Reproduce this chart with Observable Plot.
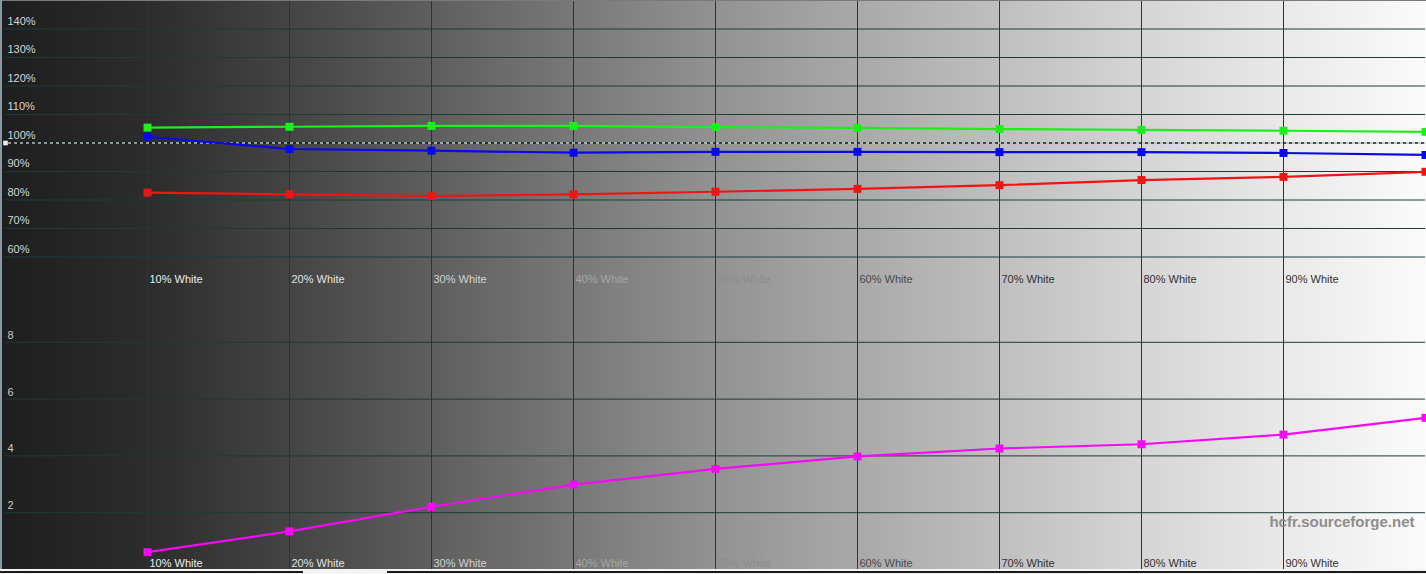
<!DOCTYPE html>
<html>
<head>
<meta charset="utf-8">
<script src="https://cdn.jsdelivr.net/npm/d3@7"></script>
<script src="https://cdn.jsdelivr.net/npm/@observablehq/plot@0.6"></script>
<style>
  html, body { margin: 0; padding: 0; overflow: hidden; background: #f4f4f4; }
  #wrap { position: relative; width: 1426px; height: 574px; overflow: hidden;
    background: linear-gradient(to right, #1e1e1e 0px, #2c2c2c 147px, #444444 289px, #5e5e5e 431px,
      #787878 573px, #929292 715px, #a9a9a9 857px, #bfbfbf 999px, #d5d5d5 1141px, #e9e9e9 1283px, #fbfbfb 1426px); }
  #top, #bottom { position: absolute; left: 0; }
  #top { top: 0; }
  #bottom { top: 285px; }
  .edge { position: absolute; }
</style>
</head>
<body>
<div id="wrap">
  <div id="top"></div>
  <div id="bottom"></div>
  <div class="edge" style="left:0;top:0;width:1426px;height:1px;background:#7a7a7a"></div>
  <div class="edge" style="left:0;top:0;width:2px;height:570px;background:#8a98a6"></div>
  <div class="edge" style="left:0;top:569px;width:1426px;height:5px;background:#f4f4f4"></div>
  <div class="edge" style="left:0;top:571px;width:303px;height:2px;background:#1a1a1a"></div>
  <div class="edge" style="left:387px;top:571px;width:1039px;height:2px;background:#1a1a1a"></div>
</div>
<script>
// ---- data ----
const levels = [10, 20, 30, 40, 50, 60, 70, 80, 90, 100];
const levelLabels = ["10% White", "20% White", "30% White", "40% White", "50% White",
  "60% White", "70% White", "80% White", "90% White"];
const redPct   = [82.6, 82.0, 81.4, 82.0, 82.9, 83.9, 85.2, 87.0, 88.1, 89.9];
const greenPct = [105.4, 105.7, 106.0, 106.0, 105.6, 105.3, 104.9, 104.6, 104.3, 103.9];
const bluePct  = [102.2, 97.9, 97.3, 96.6, 96.9, 96.9, 96.8, 96.8, 96.5, 95.8];
const deltaE   = [0.61, 1.34, 2.21, 2.99, 3.54, 3.98, 4.26, 4.41, 4.75, 5.34];
const pctTicks = [60, 70, 80, 90, 100, 110, 120, 130, 140];
const dETicks  = [2, 4, 6, 8];
const reference = [100];
const watermark = "hcfr.sourceforge.net";

// ---- styles ----
const FONT = "Liberation Sans, Arial, Helvetica, sans-serif";
const GRID = "#1c3c3c";
const COLORS = { red: "#f01414", green: "#1cf01c", blue: "#0a0ae8", dE: "#f50af5" };
function labelColor(level) {
  if (level <= 10) return "#ececec";
  if (level <= 20) return "#e2e2e2";
  if (level <= 30) return "#d2d2d2";
  if (level <= 40) return "#a6a6a6";
  if (level <= 50) return "#8c8c8c";
  if (level <= 60) return "#4a4a4a";
  return "#333333";
}

const rows = (vals) => levels.map((lv, i) => ({ x: lv, y: vals[i] }));
const labelRows = levelLabels.map((t, i) => ({ x: levels[i], t }));

const common = {
  width: 1426,
  marginLeft: 5, marginRight: 1,
  x: { domain: [0, 100], axis: null },
  style: { background: "transparent", overflow: "visible" }
};

function series(vals, color) {
  return [
    Plot.line(rows(vals), { x: "x", y: "y", stroke: color, strokeWidth: 2.2 }),
    Plot.dot(rows(vals), { x: "x", y: "y", symbol: "square", r: 4.5, fill: color, stroke: "none" })
  ];
}

const topPlot = Plot.plot({
  ...common,
  height: 285, marginTop: 0, marginBottom: 0,
  y: { domain: [50, 150], axis: null },
  marks: [
    Plot.ruleY(pctTicks, { stroke: GRID, strokeWidth: 1 }),
    Plot.ruleX(levels.slice(0, 9), { stroke: GRID, strokeWidth: 1 }),
    Plot.ruleY(reference, { x1: 0, x2: 100, stroke: "#111", strokeDasharray: "3,3" }),
    Plot.ruleY(reference, { x1: 0, x2: 100, stroke: "#ffffff", strokeDasharray: "3,3", strokeDashoffset: 3 }),
    Plot.dot(reference, { x: () => 0, y: d => d, symbol: "square", r: 2.6, fill: "#f0f0f0" }),
    Plot.text(pctTicks, { y: d => d, text: d => d + "%", frameAnchor: "left", dx: 2, dy: -8,
      textAnchor: "start", fill: "#d6d6d6", fontSize: 11, fontFamily: FONT }),
    Plot.text(labelRows, { x: "x", text: "t", frameAnchor: "bottom", dx: 2, dy: -3,
      textAnchor: "start", fill: d => labelColor(d.x), fontSize: 11, fontFamily: FONT }),
    ...series(redPct, COLORS.red),
    ...series(bluePct, COLORS.blue),
    ...series(greenPct, COLORS.green)
  ]
});

const bottomPlot = Plot.plot({
  ...common,
  height: 285, marginTop: 0, marginBottom: 1,
  y: { domain: [0, 10], axis: null },
  marks: [
    Plot.ruleY(dETicks, { stroke: GRID, strokeWidth: 1 }),
    Plot.ruleX(levels.slice(0, 9), { stroke: GRID, strokeWidth: 1 }),
    Plot.text(dETicks, { y: d => d, text: d => String(d), frameAnchor: "left", dx: 2, dy: -7,
      textAnchor: "start", fill: "#cacaca", fontSize: 11, fontFamily: FONT }),
    Plot.text(labelRows, { x: "x", text: "t", frameAnchor: "bottom", dx: 2, dy: -3,
      textAnchor: "start", fill: d => labelColor(d.x), fontSize: 11, fontFamily: FONT }),
    Plot.text([watermark], { text: d => d, frameAnchor: "bottom-right", dx: -11, dy: -43,
      textAnchor: "end", fill: "#8e8e8e", fontSize: 15, fontWeight: "bold", fontFamily: FONT }),
    ...series(deltaE, COLORS.dE)
  ]
});

document.getElementById("top").appendChild(topPlot);
document.getElementById("bottom").appendChild(bottomPlot);
</script>
</body>
</html>
